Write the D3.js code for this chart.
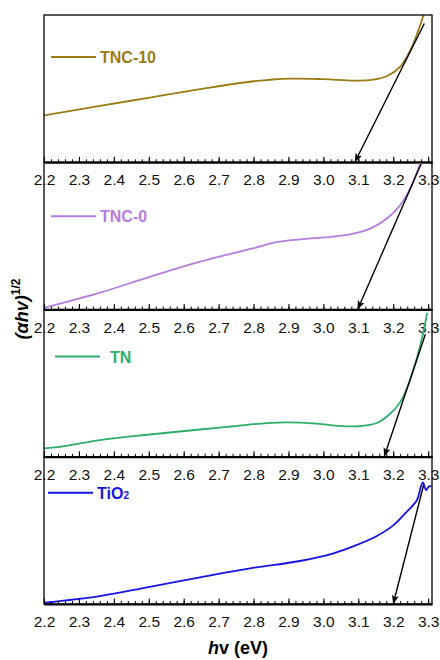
<!DOCTYPE html>
<html>
<head>
<meta charset="utf-8">
<script src="https://cdn.jsdelivr.net/npm/d3@7"></script>
<style>
  body { margin: 0; background: #fff; }
  svg { font-family: "Liberation Sans", Arial, sans-serif; }
</style>
</head>
<body>
<div id="chart"></div>
<script>
// sample names and colours, top panel first
const names = ["TNC-10", "TNC-0", "TN", "TiO2"];
const colors = ["#9c7b12", "#b57de0", "#2eae6b", "#1414e6"];

// photon energy (eV) and (ahv)^1/2 in arbitrary units (0 = panel bottom, 100 = panel top)
const xTNC10 = [2.2, 2.36, 2.503, 2.647, 2.8, 2.905, 3.0, 3.09, 3.143, 3.183, 3.22, 3.249, 3.272, 3.287];
const yTNC10 = [31.8, 38.3, 43.9, 49.6, 55.0, 56.8, 56.4, 55.4, 56.1, 58.6, 64.9, 76.1, 89.7, 100];

const xTNC0 = [2.2, 2.36, 2.503, 2.647, 2.8, 2.866, 2.933, 3.029, 3.086, 3.134, 3.182, 3.22, 3.249, 3.278];
const yTNC0 = [1.1, 11.4, 22.2, 32.5, 41.6, 45.7, 47.6, 49.5, 51.5, 54.9, 61.8, 70.9, 82.4, 99.6];

const xTN = [2.2, 2.245, 2.36, 2.503, 2.647, 2.742, 2.838, 2.895, 2.981, 3.048, 3.1, 3.153, 3.191, 3.22, 3.244, 3.268, 3.285, 3.297];
const yTN = [5.7, 6.7, 11.3, 15.1, 18.5, 20.7, 22.9, 23.4, 22.5, 20.9, 20.7, 22.9, 29.2, 37.1, 49.5, 67.4, 83.2, 97.7];

const xTiO2 = [2.2, 2.36, 2.503, 2.647, 2.79, 2.933, 3.029, 3.096, 3.153, 3.201, 3.239, 3.268, 3.279, 3.285, 3.294, 3.301, 3.309];
const yTiO2 = [0.9, 5.4, 11.7, 18.1, 24.2, 29.2, 34.4, 40.1, 46.2, 53.6, 62.7, 70.6, 79.6, 82.6, 77.4, 79.6, 80.3];

// tangent arrows: [x, y] start and end (band gap at the axis)
const arrowStarts = [[3.289, 94.2], [3.28, 99], [3.292, 83.2], [3.287, 80.8]];
const arrowEnds = [[3.09, 0], [3.098, 0], [3.174, 0], [3.2, 0]];

// tick labels
const majorTicks = [2.2, 2.3, 2.4, 2.5, 2.6, 2.7, 2.8, 2.9, 3.0, 3.1, 3.2, 3.3];
const minorTicks = [];
for (let i = 0; i <= 55; i++) minorTicks.push(+(2.2 + i * 0.02).toFixed(2));

const xs = [xTNC10, xTNC0, xTN, xTiO2];
const ys = [yTNC10, yTNC0, yTN, yTiO2];

const width = 440, height = 660;
const left = 44, right = 432;
const top0 = 15, panelH = 147.25;

const svg = d3.select("#chart").append("svg")
  .attr("width", width)
  .attr("height", height);

svg.append("defs").append("marker")
  .attr("id", "head")
  .attr("viewBox", "0 0 10 10")
  .attr("refX", 10).attr("refY", 5)
  .attr("markerWidth", 9).attr("markerHeight", 9)
  .attr("markerUnits", "userSpaceOnUse")
  .attr("orient", "auto")
  .append("path")
  .attr("d", "M0,1 L10,5 L0,9 L2.5,5 Z")
  .attr("fill", "#000");

const x = d3.scaleLinear().domain([2.2, 3.311]).range([left, right]);

names.forEach(function(name, i) {
  let y0 = top0 + i * panelH;
  let y = d3.scaleLinear().domain([0, 100]).range([y0 + panelH, y0]);
  let g = svg.append("g");

  let clipId = "clip" + i;
  g.append("clipPath").attr("id", clipId)
    .append("rect")
    .attr("x", left).attr("y", y0)
    .attr("width", right - left).attr("height", panelH);

  let pts = xs[i].map(function(d, k) { return [d, ys[i][k]]; });
  let line = d3.line()
    .x(function(d) { return x(d[0]); })
    .y(function(d) { return y(d[1]); })
    .curve(d3.curveCatmullRom.alpha(0.5));

  g.append("path")
    .datum(pts)
    .attr("clip-path", "url(#" + clipId + ")")
    .attr("d", line)
    .attr("fill", "none")
    .attr("stroke", colors[i])
    .attr("stroke-width", 1.8);

  // frame
  g.append("rect")
    .attr("x", left).attr("y", y0)
    .attr("width", right - left).attr("height", panelH)
    .attr("fill", "none")
    .attr("stroke", "#000")
    .attr("stroke-width", 1.3);

  // ticks, pointing inward
  let minor = d3.axisBottom(x).tickValues(minorTicks)
    .tickSize(-3).tickSizeOuter(0).tickFormat("");
  g.append("g")
    .attr("transform", "translate(0," + (y0 + panelH) + ")")
    .call(minor)
    .call(function(a) { a.select(".domain").remove(); })
    .selectAll("line").attr("stroke-width", 1);

  let major = d3.axisBottom(x).tickValues(majorTicks)
    .tickSize(-5.5).tickSizeOuter(0).tickPadding(12)
    .tickFormat(d3.format(".1f"));
  let ax = g.append("g")
    .attr("transform", "translate(0," + (y0 + panelH) + ")")
    .call(major);
  ax.select(".domain").attr("stroke-width", 2.2);
  ax.selectAll("line").attr("stroke-width", 1.1);
  ax.selectAll("text")
    .attr("font-size", 15.5)
    .attr("font-family", "Liberation Sans, Arial, sans-serif")
    .attr("fill", "#111");

  // tangent arrow
  g.append("line")
    .attr("x1", x(arrowStarts[i][0])).attr("y1", y(arrowStarts[i][1]))
    .attr("x2", x(arrowEnds[i][0])).attr("y2", y(arrowEnds[i][1]))
    .attr("stroke", "#000")
    .attr("stroke-width", 1.4)
    .attr("marker-end", "url(#head)");

  // legend
  let legX = [51, 51, 55, 48][i];
  let legY = y0 + [42, 54, 47, 36][i];
  g.append("line")
    .attr("x1", legX).attr("x2", legX + 45)
    .attr("y1", legY).attr("y2", legY)
    .attr("stroke", colors[i])
    .attr("stroke-width", 1.8);
  let t = g.append("text")
    .attr("x", legX + 49 + (i == 2 ? 6 : 0))
    .attr("y", legY + 6)
    .attr("font-size", 16)
    .attr("font-weight", "bold")
    .attr("fill", colors[i]);
  if (name == "TiO2") {
    t.append("tspan").text("TiO");
    t.append("tspan").attr("font-size", 10).text("2");
  } else {
    t.text(name);
  }
});

// axis titles
let yt = svg.append("text")
  .attr("transform", "translate(28,309) rotate(-90)")
  .attr("text-anchor", "middle")
  .attr("font-size", 18)
  .attr("font-weight", "bold");
yt.append("tspan").attr("font-style", "italic").text("(\u03b1hv)");
yt.append("tspan").attr("font-size", 12).attr("dy", -8).text("1/2");

let xt = svg.append("text")
  .attr("x", (left + right) / 2)
  .attr("y", 654)
  .attr("text-anchor", "middle")
  .attr("font-size", 18)
  .attr("font-weight", "bold");
xt.append("tspan").attr("font-style", "italic").text("h");
xt.append("tspan").text("v (eV)");
</script>
</body>
</html>
